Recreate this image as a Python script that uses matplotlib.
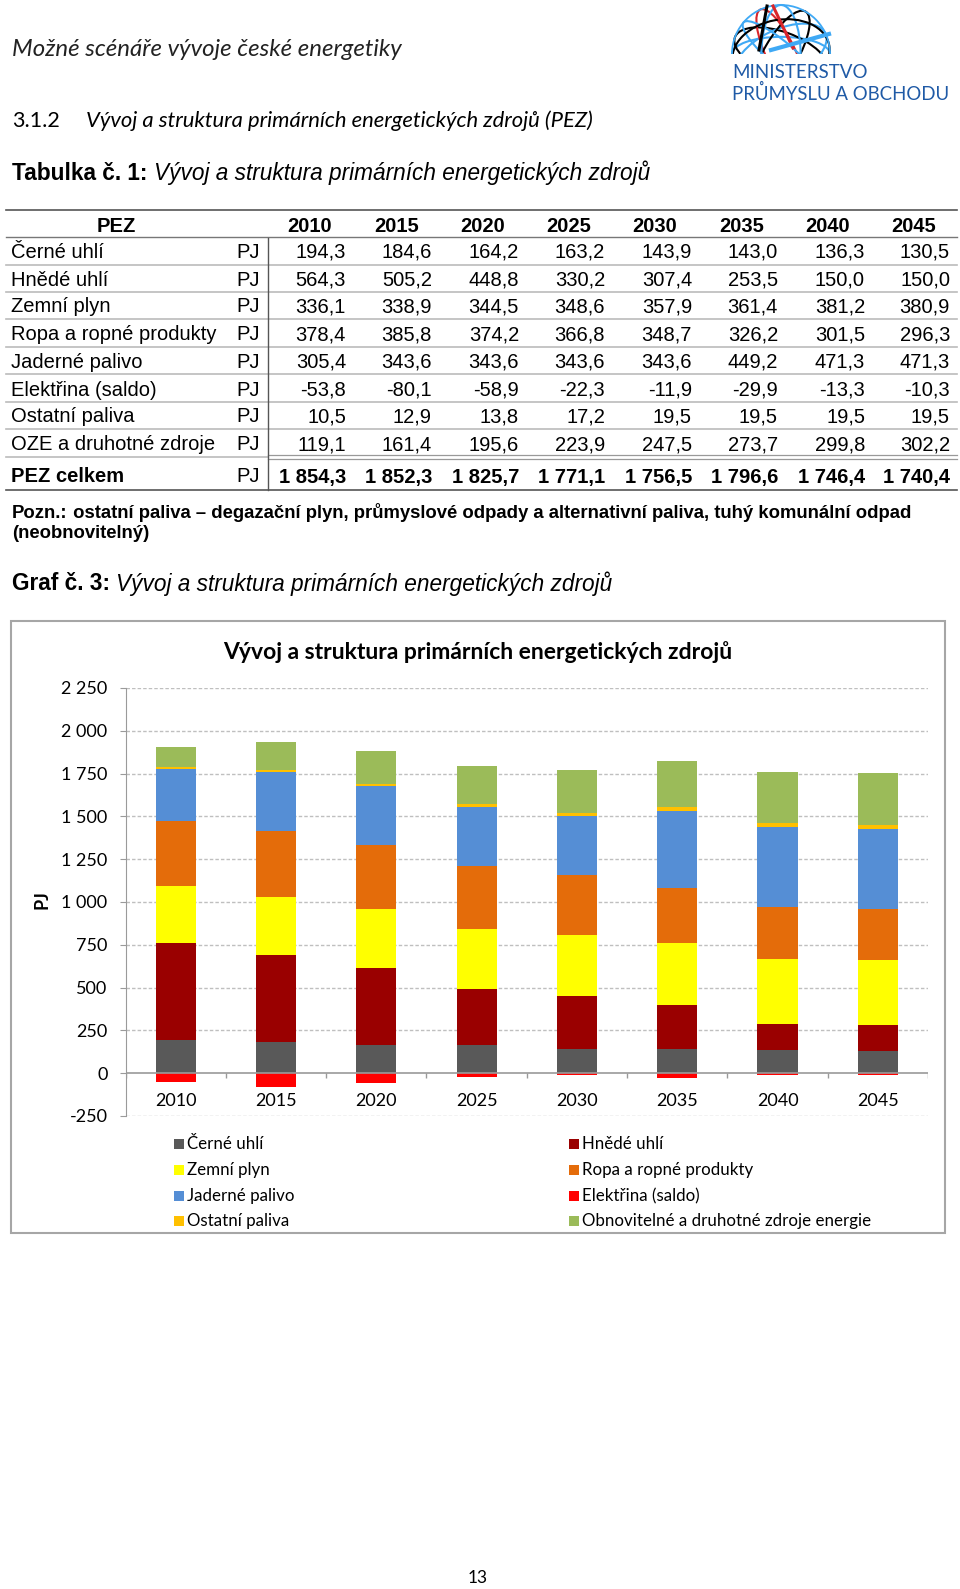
import numpy as np
import matplotlib.pyplot as plt
from matplotlib.patches import Rectangle, Ellipse

W, H = 960, 1589

# ====== data ======
years = ['2010', '2015', '2020', '2025', '2030', '2035', '2040', '2045']
row_names = ['Černé uhlí', 'Hnědé uhlí', 'Zemní plyn', 'Ropa a ropné produkty',
             'Jaderné palivo', 'Elektřina (saldo)', 'Ostatní paliva', 'OZE a druhotné zdroje']
cerne = [194.3, 184.6, 164.2, 163.2, 143.9, 143.0, 136.3, 130.5]
hnede = [564.3, 505.2, 448.8, 330.2, 307.4, 253.5, 150.0, 150.0]
plyn = [336.1, 338.9, 344.5, 348.6, 357.9, 361.4, 381.2, 380.9]
ropa = [378.4, 385.8, 374.2, 366.8, 348.7, 326.2, 301.5, 296.3]
jadro = [305.4, 343.6, 343.6, 343.6, 343.6, 449.2, 471.3, 471.3]
elektrina = [-53.8, -80.1, -58.9, -22.3, -11.9, -29.9, -13.3, -10.3]
ostatni = [10.5, 12.9, 13.8, 17.2, 19.5, 19.5, 19.5, 19.5]
oze = [119.1, 161.4, 195.6, 223.9, 247.5, 273.7, 299.8, 302.2]
celkem = [1854.3, 1852.3, 1825.7, 1771.1, 1756.5, 1796.6, 1746.4, 1740.4]

legend_names = ['Černé uhlí', 'Hnědé uhlí', 'Zemní plyn', 'Ropa a ropné produkty',
                'Jaderné palivo', 'Elektřina (saldo)', 'Ostatní paliva',
                'Obnovitelné a druhotné zdroje energie']
c_cerne, c_hnede, c_plyn, c_ropa = '#595959', '#9a0000', '#ffff00', '#e46c0a'
c_jadro, c_elek, c_ost, c_oze = '#558ed5', '#ff0000', '#ffc000', '#9bbb59'
legend_colors = [c_cerne, c_hnede, c_plyn, c_ropa, c_jadro, c_elek, c_ost, c_oze]


def fmt(v):
    return f"{v:,.1f}".replace(',', ' ').replace('.', ',')


ARIAL = 'Liberation Sans'
CALIBRI = 'Lato'

fig = plt.figure(figsize=(W / 100, H / 100), dpi=100)
fig.patch.set_facecolor('white')

# page overlay in pixel coords
page = fig.add_axes([0, 0, 1, 1])
page.set_xlim(0, W)
page.set_ylim(H, 0)
page.axis('off')
rend = fig.canvas.get_renderer()


def run(parts, x, y, **kw):
    # several text pieces one after another on one line
    for s, style in parts:
        t = page.text(x, y, s, va='center', ha='left', **style, **kw)
        x += t.get_window_extent(rend).width


# ====== header ======
page.text(12, 49, 'Možné scénáře vývoje české energetiky', family=CALIBRI,
          style='italic', fontsize=17.3, va='center', color='#222222')
page.text(12, 121, '3.1.2', family=CALIBRI, fontsize=15.5, va='center')
page.text(86, 121, 'Vývoj a struktura primárních energetických zdrojů (PEZ)',
          family=CALIBRI, style='italic', fontsize=15.8, va='center')
run([('Tabulka č. 1: ', dict(weight='bold')),
     ('Vývoj a struktura primárních energetických zdrojů', dict(style='italic'))],
    12, 173, family=ARIAL, fontsize=16.3)

# logo: half globe
cx, cy, r = 781, 54, 49
clip = Rectangle((cx - r - 5, cy - r - 5), 2 * r + 10, r + 5, transform=page.transData)
for ang, col, ry in [(0, '#3fa9f5', 0.35), (20, 'black', 0.45), (-25, '#3fa9f5', 0.5),
                     (65, '#d9262c', 0.3), (-60, 'black', 0.35), (90, '#3fa9f5', 0.4),
                     (40, '#3fa9f5', 0.25), (-10, 'black', 0.7)]:
    e = Ellipse((cx, cy), 2 * r, 2 * r * ry, angle=ang, fill=False, ec=col, lw=1.5)
    page.add_patch(e)
    e.set_clip_path(clip)
e = Ellipse((cx, cy), 2 * r, 2 * r, fill=False, ec='#3fa9f5', lw=1.3)
page.add_patch(e)
e.set_clip_path(clip)
page.plot([cx - 14, cx - 22], [cy - 48, cy - 4], color='black', lw=2.2)
page.plot([cx - 8, cx + 12], [cy - 48, cy - 6], color='#d9262c', lw=2.2)
page.plot([cx - 10, cx + 48], [cy - 4, cy - 20], color='#3fa9f5', lw=3)
page.text(732, 73, 'MINISTERSTVO', family=CALIBRI, fontsize=13.5, color='#1f5aa6', va='center')
page.text(732, 93, 'PRŮMYSLU A OBCHODU', family=CALIBRI, fontsize=13.4, color='#1f5aa6', va='center')

# ====== table ======
row_y = [252, 280, 307, 335, 362, 390, 417, 445]
col_right = [346, 432, 519, 605, 692, 778, 865, 950]
col_center = [310, 397, 483, 569, 655, 742, 828, 914]
tkw = dict(family=ARIAL, fontsize=14.5, va='center')

page.plot([6, 957], [210, 210], color='#555555', lw=1.2)
page.plot([6, 957], [490, 490], color='#555555', lw=1.2)
page.plot([6, 957], [237, 237], color='#777777', lw=1.0)
for yl in [265, 292, 319, 347, 374, 402, 429]:
    page.plot([6, 957], [yl, yl], color='#bbbbbb', lw=1.2)
page.plot([6, 268], [457, 457], color='#bbbbbb', lw=1.2)
page.plot([268, 957], [455, 455], color='#999999', lw=0.9)
page.plot([268, 957], [459, 459], color='#999999', lw=0.9)
page.plot([268, 268], [238, 490], color='#555555', lw=1.0)

page.text(116, 226, 'PEZ', ha='center', weight='bold', **tkw)
for yr, xc in zip(years, col_center):
    page.text(xc, 226, yr, ha='center', weight='bold', **tkw)

table_rows = [cerne, hnede, plyn, ropa, jadro, elektrina, ostatni, oze]
for name, vals, yy in zip(row_names, table_rows, row_y):
    page.text(11, yy, name, ha='left', **tkw)
    page.text(236, yy, 'PJ', ha='left', **tkw)
    for v, xr in zip(vals, col_right):
        page.text(xr, yy, fmt(v), ha='right', **tkw)
page.text(11, 477, 'PEZ celkem', ha='left', weight='bold', **tkw)
page.text(236, 477, 'PJ', ha='left', **tkw)
for v, xr in zip(celkem, col_right):
    page.text(xr, 477, fmt(v), ha='right', weight='bold', **tkw)

# ====== notes ======
run([('Pozn.:', dict(weight='bold')),
     (' ostatní paliva – degazační plyn, průmyslové odpady a alternativní paliva, tuhý komunální odpad',
      dict(weight='bold'))], 12, 513, family=ARIAL, fontsize=13.3)
page.text(12, 534, '(neobnovitelný)', family=ARIAL, fontsize=13.3, weight='bold', va='center')
run([('Graf č. 3: ', dict(weight='bold')),
     ('Vývoj a struktura primárních energetických zdrojů', dict(style='italic'))],
    12, 584, family=ARIAL, fontsize=16.3)

# ====== chart frame ======
page.add_patch(Rectangle((11, 621), 934, 612, fill=False, ec='#a6a6a6', lw=1.5))
page.text(478, 652, 'Vývoj a struktura primárních energetických zdrojů',
          family=CALIBRI, weight='bold', fontsize=16.5, ha='center', va='center')
page.text(42, 900, 'PJ', family=CALIBRI, weight='bold', fontsize=13, rotation=90,
          ha='center', va='center')

# legend
leg_x = [179, 574]
leg_y = [1144, 1170, 1196, 1221]
for i, (name, col) in enumerate(zip(legend_names, legend_colors)):
    x0 = leg_x[i % 2]
    y0 = leg_y[i // 2]
    page.add_patch(Rectangle((x0 - 5, y0 - 5), 10, 10, fc=col, ec='none'))
    page.text(x0 + 8, y0, name, family=CALIBRI, fontsize=12.2, va='center')

page.text(478, 1578, '13', family=CALIBRI, fontsize=12.5, ha='center', va='center')

# ====== bar chart ======
ax = fig.add_axes([125.5 / W, 1 - 1116 / H, (928 - 125.5) / W, (1116 - 688) / H])
ax.set_facecolor('none')
x = np.arange(len(years))
bw = 0.4
bottom = np.zeros(len(years))
for vals, col in [(cerne, c_cerne), (hnede, c_hnede), (plyn, c_plyn), (ropa, c_ropa),
                  (jadro, c_jadro), (ostatni, c_ost), (oze, c_oze)]:
    ax.bar(x, vals, bw, bottom=bottom, color=col, zorder=3)
    bottom += np.array(vals)
ax.bar(x, elektrina, bw, color=c_elek, zorder=3)

ax.set_xlim(-0.5, len(years) - 0.5)
ax.set_ylim(-250, 2250)
yt = np.arange(-250, 2251, 250)
ax.set_yticks(yt)
ax.set_yticklabels([f"{v:,}".replace(',', ' ') for v in yt], family=CALIBRI, fontsize=13)
for v in yt:
    if v != 0:
        ax.axhline(v, color='#bfbfbf', lw=1.0, ls=(0, (2.5, 1.5)), zorder=1)
ax.axhline(0, color='#9a9a9a', lw=1.2, zorder=4)
ax.vlines(np.arange(-0.5, len(years)), -28, 0, color='#9a9a9a', lw=1.0, zorder=4)
ax.set_xticks([])
for xi, yr in zip(x, years):
    ax.text(xi, -160, yr, ha='center', va='center', family=CALIBRI, fontsize=13)
for s in ['top', 'right', 'bottom']:
    ax.spines[s].set_visible(False)
ax.spines['left'].set_color('#9a9a9a')
ax.tick_params(axis='y', length=4, color='#9a9a9a', pad=9)

fig.savefig('out.png', dpi=100)
